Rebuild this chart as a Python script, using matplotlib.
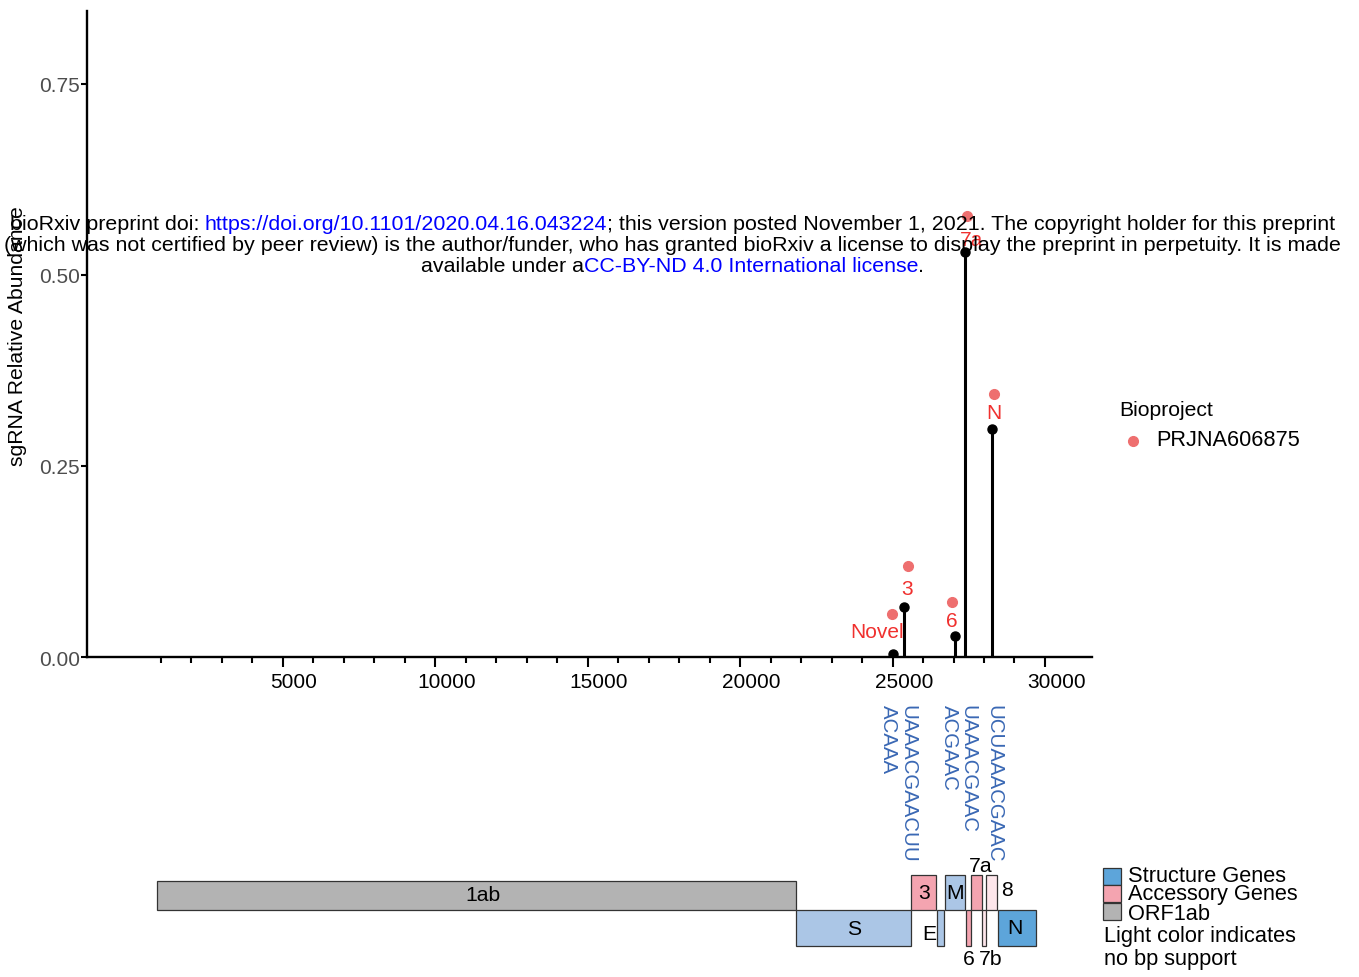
import matplotlib
matplotlib.use("Agg")
import matplotlib.pyplot as plt
from matplotlib.patches import Rectangle
from matplotlib.lines import Line2D
import matplotlib.transforms as mtransforms

plt.rcParams['font.family'] = ['Liberation Sans', 'DejaVu Sans']

# ---------------- data ----------------
orf_names = ["Novel", "3", "6", "7a", "N"]
orf_pos = [25020, 25384, 27041, 27387, 28259]
abundance = [0.004, 0.066, 0.027, 0.530, 0.298]
jit_pos = [24990, 25500, 26965, 27440, 28335]
jit_abund = [0.056, 0.119, 0.072, 0.577, 0.344]
label_pos = [24490, 25470, 26940, 27575, 28335]
label_abund = [0.033, 0.090, 0.048, 0.546, 0.320]

trs_seq = ["ACAAA", "UAAACGAACUU", "ACGAAC", "UAAACGAAC", "UCUAAACGAAC"]
trs_pos = [24852, 25498, 26862, 27485, 28338]

gene_names = ["1ab", "S", "3", "E", "M", "6", "7a", "7b", "8", "N"]
gene_start = [266, 21563, 25393, 26245, 26523, 27202, 27394, 27756, 27894, 28274]
gene_end = [21555, 25384, 26220, 26472, 27191, 27387, 27759, 27887, 28259, 29533]
gene_type = ["ORF1ab", "Structure", "Accessory", "Structure", "Structure",
             "Accessory", "Accessory", "Accessory", "Accessory", "Structure"]
gene_bp_support = [True, False, True, False, False, True, True, False, False, True]

bioproject = "PRJNA606875"
x_ticks = [5000, 10000, 15000, 20000, 25000, 30000]
y_ticks = [0.00, 0.25, 0.50, 0.75]

# ---------------- styles ----------------
W, H = 1359, 978
colors_full = {"Structure": "#5DA5DA", "Accessory": "#F4A4B0", "ORF1ab": "#B3B3B3"}
colors_light = {"Structure": "#ABC6E6", "Accessory": "#FDE6EB", "ORF1ab": "#B3B3B3"}
red_text = "#F0302E"
red_dot = "#EE6F6F"
seq_color = "#3A68B4"

fig = plt.figure(figsize=(W / 100, H / 100), dpi=100)


def fx(px):
    return px / W


def fy(py):
    return 1 - py / H


# ---------------- upper panel ----------------
ax = fig.add_axes([fx(87), fy(658), fx(1092 - 87), (658 - 12) / H])
ax.set_xlim(-1410, 31541)
ax.set_ylim(0, 0.845)
for s in ["top", "right"]:
    ax.spines[s].set_visible(False)
for s in ["left", "bottom"]:
    ax.spines[s].set_linewidth(1.7)

ax.vlines(orf_pos, 0, abundance, color="black", lw=2.2, zorder=3)
ax.plot(orf_pos, abundance, "o", color="black", ms=6.5, zorder=4)
ax.plot(jit_pos, jit_abund, "o", color=red_dot, ms=7, zorder=5, clip_on=False)
for n, xp, yp in zip(orf_names, label_pos, label_abund):
    ax.text(xp, yp, n, color=red_text, fontsize=15, ha="center", va="center", zorder=6)

ax.set_xticks(x_ticks)
ax.set_xticklabels([str(t) for t in x_ticks], fontsize=15, color="black")
ax.set_xticks(list(range(1000, 31000, 1000)), minor=True)
ax.tick_params(axis="x", which="major", length=7, width=1.5, pad=4)
ax.tick_params(axis="x", which="minor", length=4, width=1.5)
ax.set_yticks(y_ticks)
ax.set_yticklabels([f"{t:.2f}" for t in y_ticks], fontsize=15, color="#4D4D4D")
ax.tick_params(axis="y", length=4, width=1.5, pad=1)
off = mtransforms.ScaledTranslation(11.5 / 100, 0, fig.dpi_scale_trans)
for lab in ax.get_xticklabels():
    lab.set_transform(lab.get_transform() + off)

fig.text(fx(18), fy(336), "sgRNA Relative Abundance", rotation=90, fontsize=15.2,
         ha="center", va="center")

# TRS sequences
trs_trans = mtransforms.blended_transform_factory(ax.transData, fig.transFigure)
for seq, xp in zip(trs_seq, trs_pos):
    ax.text(xp, fy(705), seq, transform=trs_trans, rotation=270, fontsize=14.7,
            color=seq_color, ha="center", va="top", clip_on=False)

# Bioproject legend
fig.text(fx(1119), fy(411), "Bioproject", fontsize=15.2, ha="left", va="center")
fig.add_artist(Line2D([fx(1133)], [fy(442)], marker="o", color=red_dot, ms=7,
                      transform=fig.transFigure))
fig.text(fx(1156), fy(441), bioproject, fontsize=15.7, ha="left", va="center")

# ---------------- genome map ----------------
gx = fig.add_axes([fx(87), fy(978), fx(1092 - 87), (978 - 840) / H])
gx.set_xlim(-2065, 31409)
gx.set_ylim(978, 840)
gx.axis("off")

row_top = {"1ab": (881.7, 911), "top": (875.7, 911), "bottom": (911, 947.3)}
top_row = {"1ab", "3", "M", "7a", "8"}
label_place = {"1ab": (11125, 896), "E": (25980, 935), "6": (27312, 959.5),
               "7b": (28035, 959.5), "7a": (27712, 866.5), "8": (28568, 891),
               "N": (28840, 928.5)}
for name, s, e, t, sup in zip(gene_names, gene_start, gene_end, gene_type, gene_bp_support):
    if name == "1ab":
        y0, y1 = row_top["1ab"]
    elif name in top_row:
        y0, y1 = row_top["top"]
    else:
        y0, y1 = row_top["bottom"]
    col = colors_full[t] if sup else colors_light[t]
    gx.add_patch(Rectangle((s, y0), e - s, y1 - y0, facecolor=col,
                           edgecolor="#333333", lw=0.9))
    if name in label_place:
        lx, ly = label_place[name]
    else:
        lx, ly = (s + e) / 2, (y0 + y1) / 2
    gx.text(lx, ly, name, fontsize=15.2, ha="center", va="center", clip_on=False)

# genome legend
leg_items = [("Structure Genes", colors_full["Structure"]),
             ("Accessory Genes", colors_full["Accessory"]),
             ("ORF1ab", colors_full["ORF1ab"])]
leg_box_tops = [869.3, 886.3, 904.3]
leg_baselines = [881.5, 900.5, 920.5]
for (txt, c), top, base in zip(leg_items, leg_box_tops, leg_baselines):
    fig.add_artist(Rectangle((fx(1103.3), fy(top + 17)), fx(17.4), 17 / H,
                             facecolor=c, edgecolor="#333333", lw=0.9,
                             transform=fig.transFigure))
    fig.text(fx(1128), fy(base), txt, fontsize=15.7, ha="left", va="baseline")
fig.text(fx(1104), fy(941.7), "Light color indicates", fontsize=15.7, ha="left", va="baseline")
fig.text(fx(1104), fy(965), "no bp support", fontsize=15.7, ha="left", va="baseline")

# ---------------- bioRxiv watermark ----------------
renderer = fig.canvas.get_renderer()
wm_lines = [
    [("bioRxiv preprint doi: ", "black"),
     ("https://doi.org/10.1101/2020.04.16.043224", "blue"),
     ("; this version posted November 1, 2021. The copyright holder for this preprint", "black")],
    [("(which was not certified by peer review) is the author/funder, who has granted bioRxiv a license to display the preprint in perpetuity. It is made", "black")],
    [("available under a", "black"), ("CC-BY-ND 4.0 International license", "blue"), (".", "black")],
]
wm_base = [230, 251, 272]


def seg_width(segs, fs):
    tot = 0
    arts = []
    for txt, c in segs:
        t = fig.text(0, 0, txt, fontsize=fs)
        bb = t.get_window_extent(renderer=renderer)
        tot += bb.width
        arts.append(t)
    for t in arts:
        t.remove()
    return tot


fs0 = 14.0
w0 = seg_width(wm_lines[0], fs0)
fs = fs0 * 1333 / w0
for segs, base in zip(wm_lines, wm_base):
    widths = []
    for txt, c in segs:
        t = fig.text(0, 0, txt, fontsize=fs)
        widths.append(t.get_window_extent(renderer=renderer).width)
        t.remove()
    total = sum(widths)
    xstart = 672.5 - total / 2
    for (txt, c), w in zip(segs, widths):
        fig.text(fx(xstart), fy(base), txt, fontsize=fs, color=c, ha="left",
                 va="baseline", zorder=10)
        xstart += w

fig.savefig("out.png", dpi=100)
